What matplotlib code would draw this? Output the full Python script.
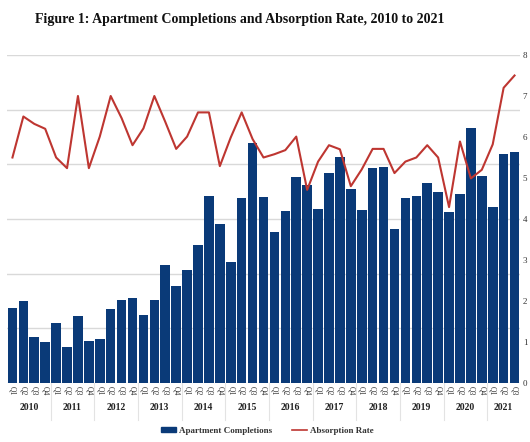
import matplotlib
matplotlib.use("Agg")
import matplotlib.pyplot as plt
import matplotlib.transforms as mtransforms
from matplotlib.patches import Patch
from matplotlib.lines import Line2D

years = ["2010", "2011", "2012", "2013", "2014", "2015", "2016", "2017", "2018", "2019", "2020", "2021"]
quarters = ["Q1", "Q2", "Q3", "Q4"]
quarter_labels = [q for y in years for q in quarters][:47]

completions = [1.37, 1.50, 0.84, 0.75, 1.10, 0.65, 1.23, 0.77,
               0.80, 1.36, 1.52, 1.55, 1.25, 1.52, 2.15, 1.78,
               2.07, 2.52, 3.42, 2.90, 2.21, 3.38, 4.39, 3.41,
               2.76, 3.14, 3.77, 3.63, 3.19, 3.85, 4.14, 3.54,
               3.16, 3.94, 3.96, 2.81, 3.39, 3.42, 3.66, 3.49,
               3.13, 3.46, 4.67, 3.78, 3.22, 4.19, 4.23]

absorption = [5.50, 6.50, 6.32, 6.20, 5.50, 5.24, 7.00, 5.24,
              6.01, 7.00, 6.46, 5.80, 6.21, 7.00, 6.37, 5.71,
              6.01, 6.60, 6.60, 5.29, 5.99, 6.60, 5.95, 5.50,
              5.58, 5.68, 6.01, 4.71, 5.40, 5.80, 5.70, 4.80,
              5.21, 5.71, 5.71, 5.12, 5.40, 5.50, 5.80, 5.50,
              4.29, 5.89, 4.99, 5.20, 5.82, 7.20, 7.50]

right_ticks = [0, 1, 2, 3, 4, 5, 6, 7, 8]

navy = "#0A3A78"
red = "#BE3631"
serif = ["Liberation Serif", "DejaVu Serif"]

fig = plt.figure(figsize=(5.30, 4.42), dpi=100)
W, H = 530, 442
left, right, bottom, top = 7, 520, 383, 55
ax = fig.add_axes([left / W, (H - bottom) / H, (right - left) / W, (bottom - top) / H])

x = list(range(len(completions)))
ax.bar(x, completions, width=0.88, color=navy, zorder=2)
ax.set_xlim(-0.5, len(completions) - 0.5)
ax.set_ylim(0, 6)
ax.set_yticks(range(7))
ax.yaxis.grid(True, color="#D9D9D9", linewidth=1.0)
ax.set_axisbelow(True)
for s in ax.spines.values():
    s.set_visible(False)
ax.set_xticks(x)
ax.set_xticklabels(quarter_labels, rotation=-90, fontsize=5.5, family=serif, color="#333333")
ax.tick_params(axis="x", length=0, pad=2)

ax2 = ax.twinx()
ax2.plot(x, absorption, color=red, linewidth=1.5, zorder=3)
ax2.set_ylim(0, 8)
ax2.set_yticks(right_ticks)
ax2.set_yticklabels([str(t) for t in right_ticks], fontsize=6.5, family=serif, color="#333333")
ax2.tick_params(axis="y", length=0, pad=2)
for s in ax2.spines.values():
    s.set_visible(False)
ax2.set_xlim(-0.5, len(completions) - 0.5)
ax.tick_params(axis="y", which="both", left=False, right=False, labelleft=False, labelright=False)

trans = mtransforms.blended_transform_factory(ax.transData, ax.transAxes)
axh = bottom - top
for i, yr in enumerate(years):
    start = i * 4 - 0.5
    end = min(i * 4 + 3.5, len(completions) - 0.5)
    ax.text((start + end) / 2, -(407 - bottom) / axh, yr, transform=trans,
            ha="center", va="center", fontsize=7, fontweight="bold", family=serif, color="#222222")
    if i > 0:
        ax.plot([start, start], [0, -(420 - bottom) / axh], transform=trans, color="#E3E3E3",
                linewidth=0.8, clip_on=False)

fig.text(240 / W, 1 - 19 / H, "Figure 1: Apartment Completions and Absorption Rate, 2010 to 2021",
         ha="center", va="center", fontsize=10, fontweight="bold", family=serif, color="#111111")

handles = [Patch(facecolor=navy, edgecolor=navy), Line2D([0], [0], color=red, linewidth=1.2)]
leg = fig.legend(handles, ["Apartment Completions", "Absorption Rate"], loc="center",
                 bbox_to_anchor=(267 / W, 1 - 431 / H), ncol=2, frameon=False,
                 prop={"family": serif, "size": 6.5, "weight": "bold"},
                 handlelength=1.7, handleheight=0.5, columnspacing=2.2, handletextpad=0.3)
for t in leg.get_texts():
    t.set_color("#333333")

fig.savefig("out.png", dpi=100)
